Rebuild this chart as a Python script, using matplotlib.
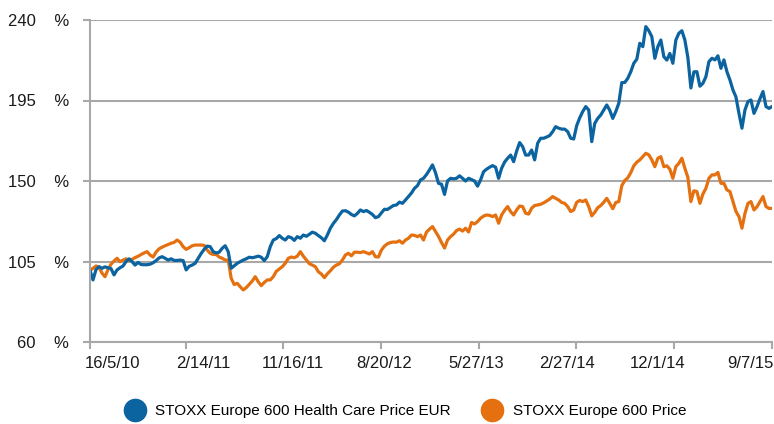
import pandas as pd
import matplotlib.pyplot as plt
from matplotlib.lines import Line2D
from matplotlib.transforms import ScaledTranslation

plt.rcParams['font.family'] = ['Liberation Sans', 'DejaVu Sans']

health_care = [
    100, 94.7, 100.5, 102.1, 101.2, 102, 101.5, 101, 97.5, 100.3,
    101.5, 102.5, 105, 106.5, 104.9, 103.0, 104.5, 103.3, 103.2, 103.2,
    103.5, 104.3, 105.5, 107, 107.7, 106.8, 105.8, 106.5, 105.6, 105.6,
    105.8, 105.5, 100.3, 102.3, 103.0, 104.0, 106.8, 109.5, 111.8, 113.6,
    113.3, 110.5, 109.8, 110.2, 112.4, 113.8, 110.5, 101.2, 102.6, 104.0,
    104.9, 105.8, 106.5, 107.4, 107.1, 107.5, 108, 107.4, 105.5, 107.7,
    113.3, 117.0, 117.8, 119.5, 118.0, 117.0, 118.9, 118.3, 116.8, 118.9,
    118.0, 119.8, 119.1, 120.2, 121.4, 120.8, 119.5, 118.3, 116.6, 119.8,
    123.6, 126.3, 128.4, 131.0, 133.2, 133.4, 132.6, 131.3, 130.5, 131.9,
    133.8, 132.9, 133.5, 132.5, 131.3, 129.5, 130.1, 132.2, 134.2, 134.1,
    135.2, 136.3, 136.6, 138.2, 137.5, 139.4, 141.3, 143.3, 145.9, 147.4,
    150.6, 151.5, 153.6, 156.2, 159.0, 154.6, 148.7, 148.2, 142.5, 150.0,
    151.5, 151.2, 151.5, 152.9, 151.5, 150.0, 151.5, 150.8, 150.0, 147.1,
    150.6, 155.2, 156.6, 157.7, 158.6, 157.7, 151.5, 157.1, 160.6, 162.7,
    164.5, 160.8, 166.7, 171.5, 169.2, 164.5, 164.5, 167.3, 161.8, 171.1,
    173.9, 173.9, 174.6, 175.4, 177.6, 180.4, 179.5, 179.0, 179.0, 177.6,
    173.9, 173.5, 181, 185.3, 188.8, 191.6, 189.7, 172, 182.2, 185.0,
    186.9, 189.7, 192.5, 189.5, 185, 188.8, 193.4, 205, 205.1, 207.4,
    211.1, 215.8, 218.1, 227.0, 225.1, 236.3, 234.0, 230.7, 218.6, 225.1,
    228.8, 219.5, 217.6, 221.3, 215.8, 228.8, 232.6, 234, 228.8, 219,
    202, 211, 211.1, 203, 204.6, 208.3, 216.7, 218.6, 217.7, 220,
    213.0, 217.7, 211.1, 206.5, 200.9, 197, 187.8, 179.5, 189.7, 194.4,
    195.3, 187.8, 191.5, 196, 200.0, 191.6, 190.6, 191.6,
]

stoxx_600 = [
    100, 101.2, 102.5, 101.8, 98.5, 96.5, 100.5, 103.5, 105.3, 106.8,
    104.9, 105.8, 106.5, 105.5, 106.2, 107.2, 107.9, 108.9, 109.8, 110.5,
    108.6, 107.5, 110.3, 112.1, 113.0, 113.8, 114.5, 115.2, 115.7, 117.0,
    115.8, 113.3, 111.8, 112.7, 113.8, 114.2, 114.2, 114.2, 114.0, 111.4,
    109.6, 108.9, 109.0, 107.5, 106.8, 105.8, 105.8, 95.6, 92.1, 92.8,
    90.9, 89.1, 90.4, 92.2, 94.1, 96.5, 93.7, 91.5, 93.3, 94.7,
    94.7, 96.5, 99.5, 100.8, 102.1, 104.0, 106.8, 107.5, 107.1, 108.0,
    110.5, 108.0, 105.9, 103.8, 103.0, 102.1, 99.3, 98.0, 96.0, 98.1,
    99.8, 101.8, 103.0, 103.7, 105.8, 108.6, 109.6, 108.2, 110.2, 110.2,
    110.0, 110.5, 109.9, 109.2, 110.5, 107.7, 107.5, 111.4, 113.6, 114.9,
    115.6, 115.9, 115.8, 116.6, 115.2, 117.0, 118.0, 119.8, 119.6, 118.9,
    119.8, 117.0, 121.4, 123.1, 124.5, 121.7, 119.0, 115.6, 112.5, 117.0,
    118.9, 120.3, 122.3, 123.1, 122.0, 123.6, 121.5, 126.8, 126.0, 127.3,
    129.2, 130.4, 131.0, 130.8, 130.1, 131.0, 126.4, 131.0, 133.6, 135.7,
    132.9, 131.0, 133.8, 136.0, 135.7, 132.0, 131.5, 134.8, 136.3, 136.6,
    137.0, 137.8, 138.8, 139.9, 141.3, 140.3, 139.4, 138.0, 137.5, 135.7,
    132.9, 133.8, 138.1, 139.1, 138.5, 139.4, 135.7, 130.5, 132.5, 135.1,
    136.3, 138.1, 140.3, 137.5, 134.5, 138.0, 138.5, 147.4, 150.3, 151.8,
    154.7, 158.5, 160.5, 161.8, 163.6, 165.5, 164.6, 161.8, 158.0, 162.7,
    163.6, 158.0, 158.5, 156.6, 151.5, 158.0, 159.9, 162.7, 157.1, 152,
    138.5, 144.5, 144.1, 137.5, 142.7, 145.9, 151.5, 153.4, 153.4, 154.8,
    148.7, 148.7, 145.0, 144.1, 138.5, 133.0, 130.1, 123.6, 131.9, 137.5,
    138.5, 133.8, 135.6, 138.4, 141.3, 135.7, 134.7, 134.7,
]

start_date = '2010-05-16'
end_date = '2015-09-07'
tick_dates = ['2010-05-16', '2011-02-14', '2011-11-16', '2012-08-20',
              '2013-05-27', '2014-02-27', '2014-12-01', '2015-09-07']
tick_labels = ['16/5/10', '2/14/11', '11/16/11', '8/20/12',
               '5/27/13', '2/27/14', '12/1/14', '9/7/15']
y_ticks = [60, 105, 150, 195, 240]
series_names = ['STOXX Europe 600 Health Care Price EUR', 'STOXX Europe 600 Price']

blue = '#0b63a0'
orange = '#e4700f'
grey = '#a8a8a8'

fig = plt.figure(figsize=(7.74, 4.24), dpi=100)
ax = fig.add_axes([90 / 774, 82 / 424, 682 / 774, 322 / 424])

hc_dates = pd.date_range(start_date, end_date, periods=len(health_care))
sx_dates = pd.date_range(start_date, end_date, periods=len(stoxx_600))
ax.plot(sx_dates, stoxx_600, color=orange, linewidth=2.3, solid_joinstyle='round')
ax.plot(hc_dates, health_care, color=blue, linewidth=2.3, solid_joinstyle='round')

ax.set_xlim(pd.Timestamp(start_date), pd.Timestamp(end_date))
ax.set_ylim(60, 240)
ax.set_yticks(y_ticks)
ax.set_yticklabels([f'{v}    %' for v in y_ticks])
ax.set_xticks(pd.to_datetime(tick_dates))
ax.set_xticklabels(tick_labels)

ax.yaxis.grid(True, color=grey, linewidth=1.5)
ax.set_axisbelow(True)
for side in ['top', 'right']:
    ax.spines[side].set_visible(False)
for side in ['left', 'bottom']:
    ax.spines[side].set_color(grey)
    ax.spines[side].set_linewidth(1.5)
ax.tick_params(axis='both', colors=grey, length=5, width=1.5, labelsize=12,
               labelcolor='#1a1a1a')
ax.tick_params(axis='y', pad=10)
ax.tick_params(axis='x', pad=5)

# x labels sit slightly inside the plot at both ends
n = len(tick_labels)
for i, lbl in enumerate(ax.get_xticklabels()):
    dx = (23 - 45 * i / (n - 1)) / 100
    lbl.set_transform(lbl.get_transform() + ScaledTranslation(dx, 0, fig.dpi_scale_trans))

handles = [Line2D([], [], marker='o', linestyle='', color=c, markersize=16)
           for c in [blue, orange]]
fig.legend(handles, series_names, loc='center', bbox_to_anchor=(403 / 774, 1 - 411 / 424),
           ncol=2, frameon=False, fontsize=11, handlelength=2.0, handletextpad=0.35,
           columnspacing=1.7)

fig.savefig('out.png', dpi=100)
